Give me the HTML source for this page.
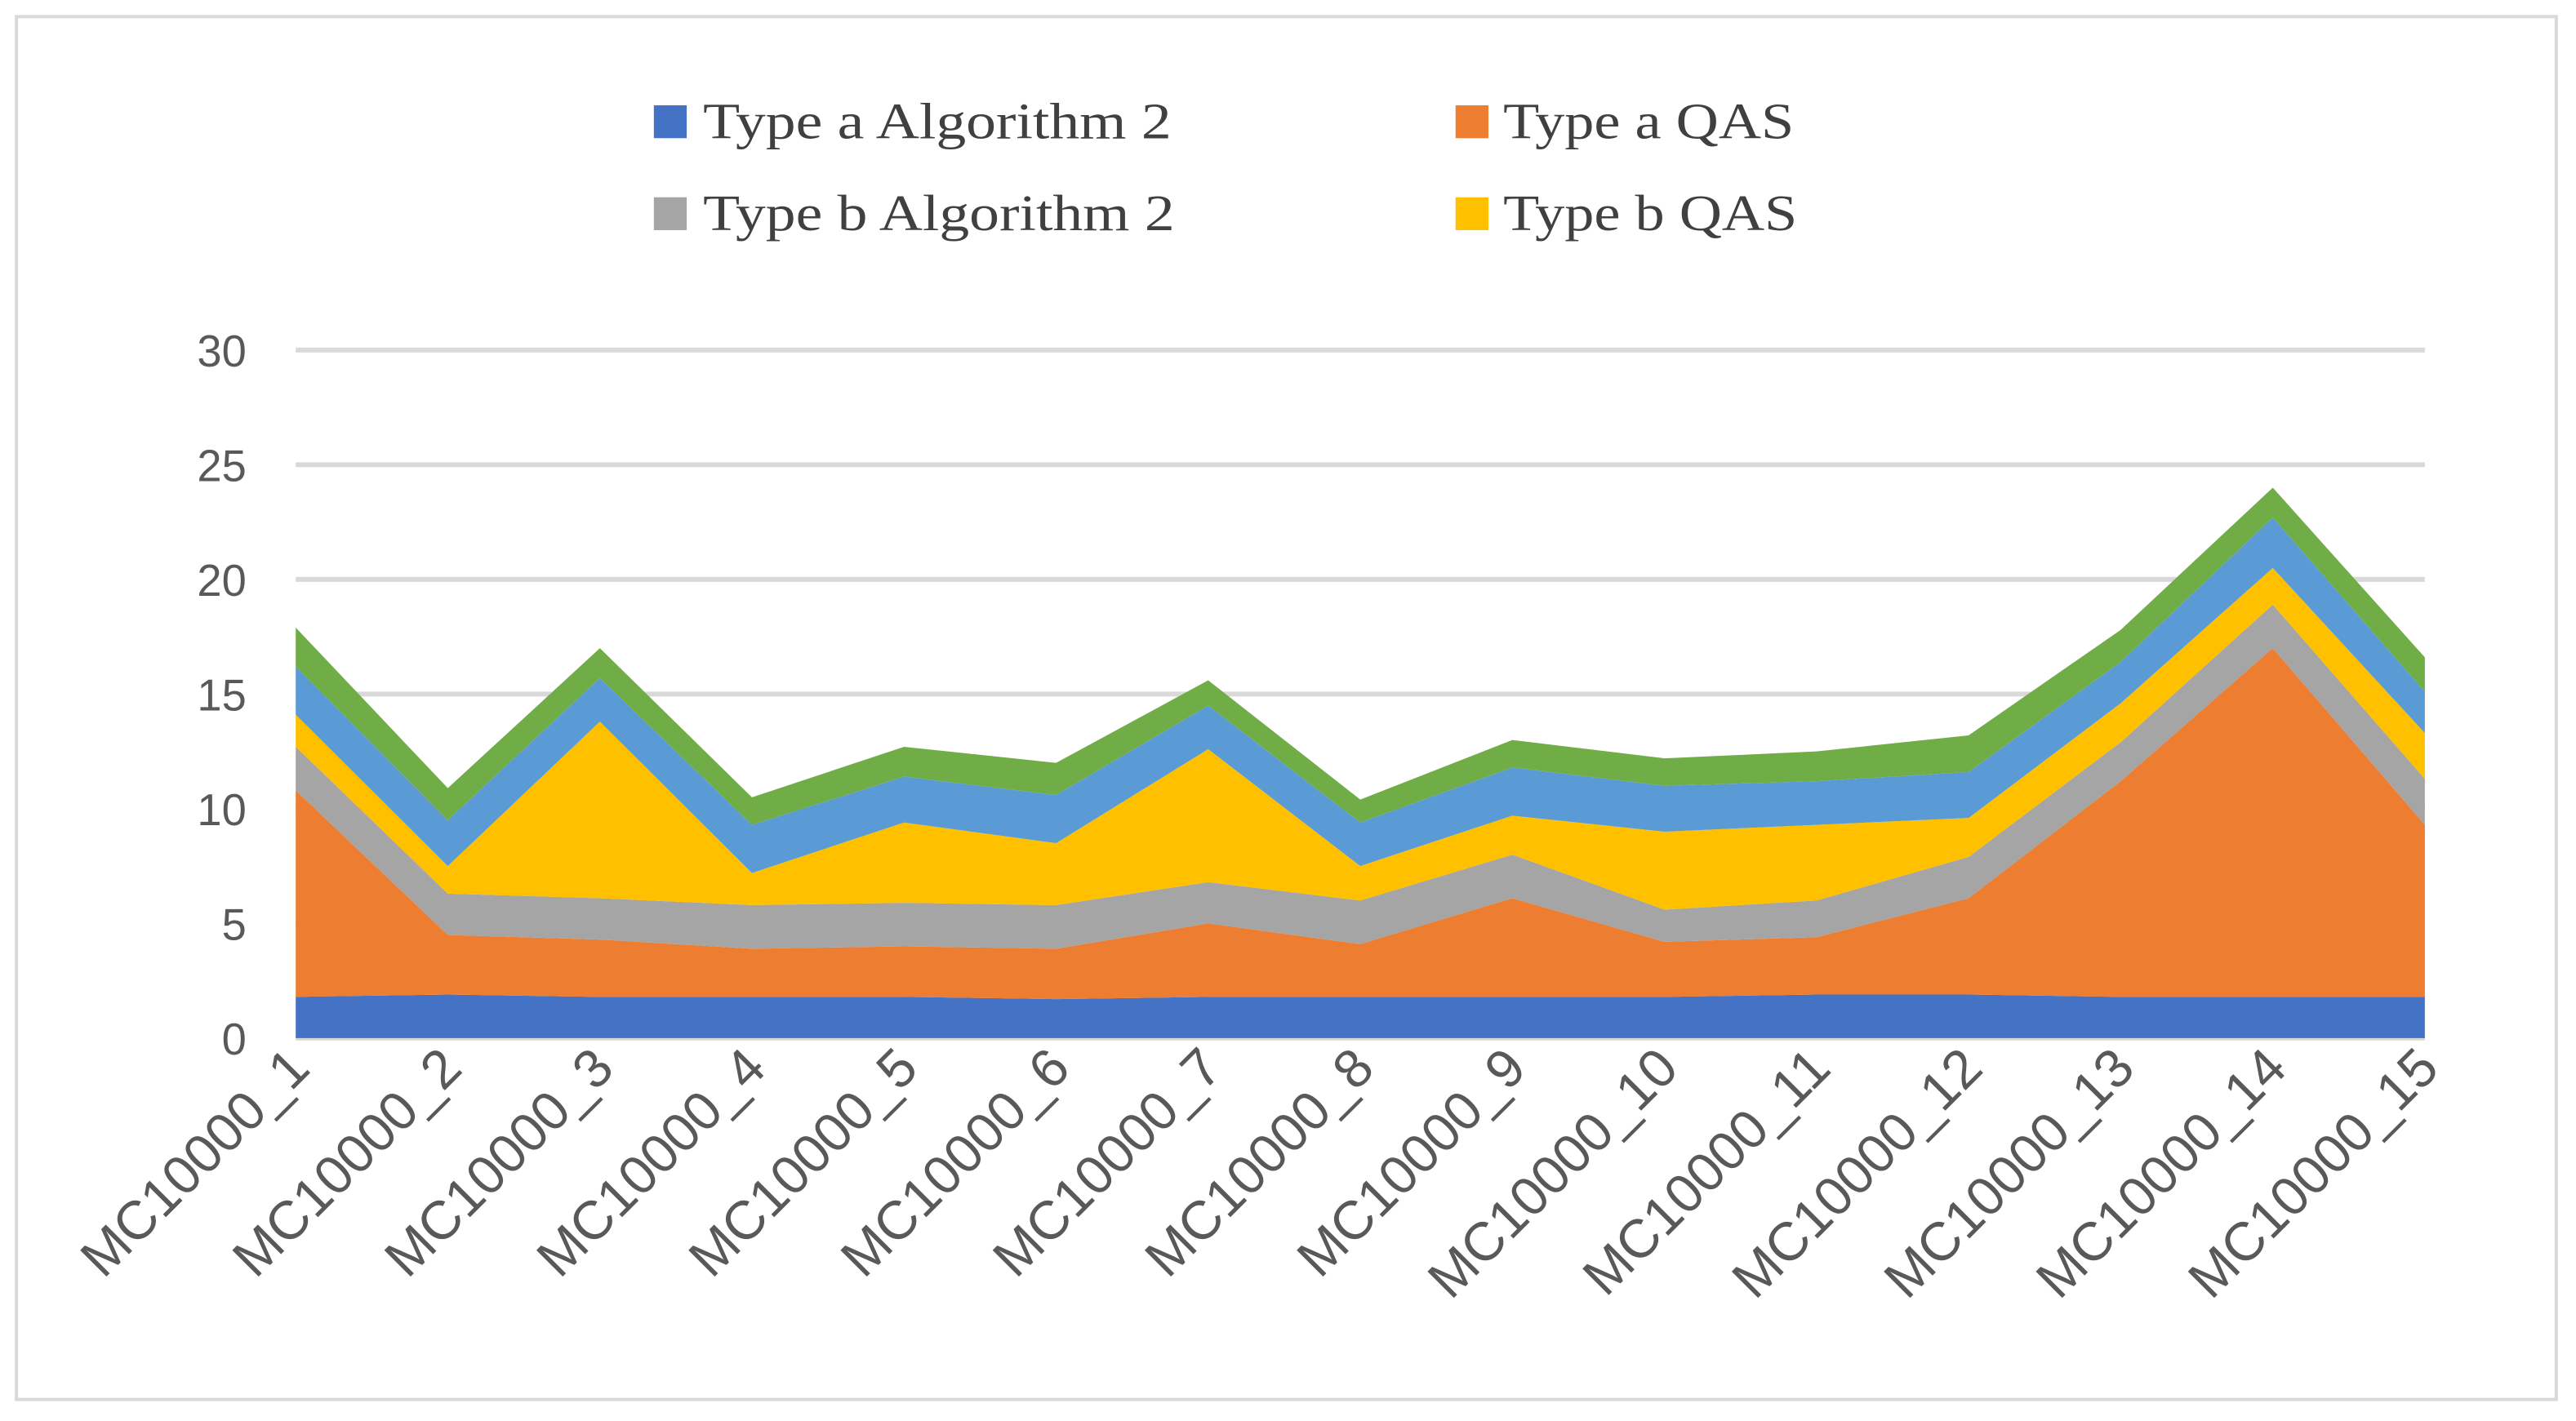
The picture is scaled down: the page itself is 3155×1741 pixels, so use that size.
<!DOCTYPE html>
<html><head><meta charset="utf-8"><style>
html,body{margin:0;padding:0;background:#fff;}
svg{display:block;}
</style></head><body>
<svg id="chart" width="3155" height="1741" viewBox="0 0 1568 865" xmlns="http://www.w3.org/2000/svg">
<rect x="10" y="10" width="1546" height="842" fill="#fff" stroke="#d9d9d9" stroke-width="2"/>
<g id="grid"></g>
<g id="areas"></g>
<g id="yticks"></g>
<g id="xticks"></g>
<g font-family="'Liberation Serif', serif" font-size="31" fill="#404040">
  <g><rect x="398" y="64" width="20" height="20" fill="#4472C4"/><text x="428" y="84" textLength="285" lengthAdjust="spacingAndGlyphs">Type a Algorithm 2</text></g>
  <g><rect x="886" y="64" width="20" height="20" fill="#ED7D31"/><text x="915" y="84" textLength="177" lengthAdjust="spacingAndGlyphs">Type a QAS</text></g>
  <g><rect x="398" y="120" width="20" height="20" fill="#A5A5A5"/><text x="428" y="140" textLength="287" lengthAdjust="spacingAndGlyphs">Type b Algorithm 2</text></g>
  <g><rect x="886" y="120" width="20" height="20" fill="#FFC000"/><text x="915" y="140" textLength="179" lengthAdjust="spacingAndGlyphs">Type b QAS</text></g>
</g>
</svg>
<script>
const categories = ["MC10000_1","MC10000_2","MC10000_3","MC10000_4","MC10000_5","MC10000_6","MC10000_7","MC10000_8","MC10000_9","MC10000_10","MC10000_11","MC10000_12","MC10000_13","MC10000_14","MC10000_15"];
const typeAAlg2 = [1.8,1.9,1.8,1.8,1.8,1.7,1.8,1.8,1.8,1.8,1.9,1.9,1.8,1.8,1.8];
const typeAQAS  = [9.0,2.6,2.5,2.1,2.2,2.2,3.2,2.3,4.3,2.4,2.5,4.2,9.4,15.2,7.5];
const typeBAlg2 = [1.9,1.8,1.8,1.9,1.9,1.9,1.8,1.9,1.9,1.4,1.6,1.8,1.7,1.9,2.0];
const typeBQAS  = [1.4,1.2,7.7,1.4,3.5,2.7,5.8,1.5,1.7,3.4,3.3,1.7,1.7,1.6,2.0];
const series5   = [2.1,2.0,1.9,2.1,2.0,2.1,1.9,1.9,2.1,2.0,1.9,2.0,1.8,2.2,1.8];
const series6   = [1.7,1.4,1.3,1.2,1.3,1.4,1.1,1.0,1.2,1.2,1.3,1.6,1.4,1.3,1.5];
const yTicks = [0,5,10,15,20,25,30];
const seriesList = [typeAAlg2,typeAQAS,typeBAlg2,typeBQAS,series5,series6];
const seriesNames = ["type-a-algorithm-2","type-a-qas","type-b-algorithm-2","type-b-qas","series-5","series-6"];
const colors = ["#4472C4","#ED7D31","#A5A5A5","#FFC000","#5B9BD5","#70AD47"];
const NS="http://www.w3.org/2000/svg";
const x0=180,x1=1476,yB=632,yT=213,yMax=30;
const xs=i=>x0+i*(x1-x0)/(categories.length-1);
const ys=v=>yB-v/yMax*(yB-yT);
const grid=document.getElementById('grid'),yt=document.getElementById('yticks'),xt=document.getElementById('xticks'),areas=document.getElementById('areas');
yTicks.forEach(t=>{
  const l=document.createElementNS(NS,'line');
  
  
  l.setAttribute('x1',x0);l.setAttribute('x2',x1);l.setAttribute('y1',ys(t));l.setAttribute('y2',ys(t));
  l.setAttribute('stroke','#d9d9d9');l.setAttribute('stroke-width','3');grid.appendChild(l);
  const tx=document.createElementNS(NS,'text');
  
  
  tx.setAttribute('x',150);tx.setAttribute('y',ys(t)+10);tx.setAttribute('text-anchor','end');
  tx.setAttribute('font-family','Liberation Sans, sans-serif');tx.setAttribute('font-size','27');tx.setAttribute('fill','#595959');
  tx.textContent=t;yt.appendChild(tx);
});
let base=categories.map(()=>0);
seriesList.forEach((s,k)=>{
  const top=base.map((b,i)=>b+s[i]);
  let d='';
  top.forEach((v,i)=>{d+=(i?'L':'M')+xs(i)+','+ys(v);});
  for(let i=base.length-1;i>=0;i--)d+='L'+xs(i)+','+ys(base[i]);
  const p=document.createElementNS(NS,'path');
  
  
  p.setAttribute('d',d+'Z');p.setAttribute('fill',colors[k]);
  areas.appendChild(p);
  base=top;
});
categories.forEach((c,i)=>{
  const tx=document.createElementNS(NS,'text');
  
  
  const x=xs(i)+10,y=652;
  tx.setAttribute('x',x);tx.setAttribute('y',y);tx.setAttribute('text-anchor','end');
  tx.setAttribute('transform','rotate(-45 '+x+' '+y+')');
  tx.setAttribute('font-family','Liberation Sans, sans-serif');tx.setAttribute('font-size','33');tx.setAttribute('fill','#595959');
  tx.textContent=c;xt.appendChild(tx);
});
</script>
</body></html>
